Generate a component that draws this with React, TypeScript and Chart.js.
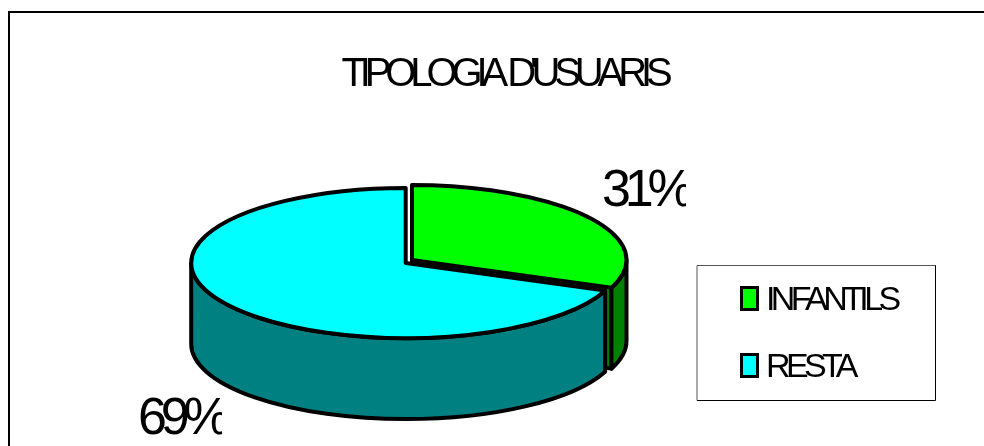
import { useEffect, useRef } from "react";
import { Chart, registerables } from "chart.js";

Chart.register(...registerables);

const categories = ["INFANTILS", "RESTA"];
const shares = [31, 69];
const topColors = ["#00FF00", "#00FFFF"];
const wallColors = ["#008000", "#008080"];
const chartTitle = "TIPOLOGIA D'USUARIS";

const FONT = '"Liberation Sans", Arial, sans-serif';
const RADIUS = 214.5;
const SQUASH = 0.35;
const DEPTH = 81;
const CENTER_X = 405.7;
const CENTER_Y = 263;
const EXPLODE_X = [6.3, 0];
const EXPLODE_Y = [-3, 0];
const OUTLINE = 4;

function sliceFrame(arc: any, i: number) {
  return {
    cx: CENTER_X + EXPLODE_X[i],
    cy: CENTER_Y + EXPLODE_Y[i],
    rx: arc.outerRadius,
    ry: arc.outerRadius * SQUASH,
  };
}

function spacedText(ctx: CanvasRenderingContext2D, text: string, x: number, y: number, size: number, spacing: number) {
  ctx.font = `${size}px ${FONT}`;
  (ctx as any).letterSpacing = `${spacing}px`;
  ctx.fillStyle = "#000";
  ctx.textAlign = "left";
  ctx.textBaseline = "alphabetic";
  ctx.fillText(text, x, y);
  (ctx as any).letterSpacing = "0px";
}

// Draws the extruded sides, then the library's arcs flattened into ellipses.
const tiltedPie = {
  id: "tiltedPie",
  beforeDraw(chart: any) {
    const ctx = chart.ctx as CanvasRenderingContext2D;
    ctx.save();
    ctx.fillStyle = "#fff";
    ctx.fillRect(0, 0, chart.width, chart.height);
    ctx.strokeStyle = "#000";
    ctx.lineWidth = 2;
    ctx.beginPath();
    ctx.moveTo(9, chart.height);
    ctx.lineTo(9, 12);
    ctx.lineTo(chart.width, 12);
    ctx.stroke();
    ctx.restore();
    // Tight tracking for the title, which the library paints next
    (ctx as any).letterSpacing = "-6.1px";
  },
  beforeDatasetsDraw(chart: any) {
    const ctx = chart.ctx as CanvasRenderingContext2D;
    (ctx as any).letterSpacing = "0px";
    const arcs = chart.getDatasetMeta(0).data;
    ctx.save();
    ctx.strokeStyle = "#000";
    ctx.lineWidth = OUTLINE;
    ctx.lineJoin = "round";

    arcs.forEach((arc: any, i: number) => {
      const f = sliceFrame(arc, i);
      const from = arc.startAngle;
      const to = arc.endAngle;
      ctx.fillStyle = wallColors[i];

      // Radial cut face of the slice that ends in front of the pie
      if (to > 0 && to < Math.PI) {
        const tipX = f.cx + Math.cos(to) * f.rx;
        const tipY = f.cy + Math.sin(to) * f.ry;
        ctx.beginPath();
        ctx.moveTo(f.cx, f.cy);
        ctx.lineTo(tipX, tipY);
        ctx.lineTo(tipX, tipY + DEPTH);
        ctx.lineTo(f.cx, f.cy + DEPTH);
        ctx.closePath();
        ctx.fill();
        ctx.stroke();
      }

      // Curved outer wall over the front half of the ellipse
      const a = Math.max(from, 0);
      const b = Math.min(to, Math.PI);
      if (b > a) {
        ctx.beginPath();
        ctx.ellipse(f.cx, f.cy, f.rx, f.ry, 0, a, b);
        ctx.ellipse(f.cx, f.cy + DEPTH, f.rx, f.ry, 0, b, a, true);
        ctx.closePath();
        ctx.fill();
        ctx.stroke();
      }
    });

    // Painted from the back slice forward so the outlines overlap correctly
    [1, 0].forEach((i) => {
      const arc = arcs[i];
      const f = sliceFrame(arc, i);
      ctx.save();
      ctx.translate(f.cx, f.cy);
      ctx.scale(1, SQUASH);
      ctx.translate(-arc.x, -arc.y);
      arc.draw(ctx);
      ctx.restore();
      ctx.beginPath();
      ctx.moveTo(f.cx, f.cy);
      ctx.ellipse(f.cx, f.cy, f.rx, f.ry, 0, arc.startAngle, arc.endAngle);
      ctx.closePath();
      ctx.stroke();
    });
    ctx.restore();
    return false;
  },
  afterDraw(chart: any) {
    const ctx = chart.ctx as CanvasRenderingContext2D;
    (ctx as any).letterSpacing = "0px";
    ctx.save();

    // Percentage labels sit in narrow boxes that cut off the final glyph
    const labelBoxes = [
      { x: 602, y: 206, clipRight: 686 },
      { x: 138, y: 434, clipRight: 222 },
    ];
    shares.forEach((v, i) => {
      const box = labelBoxes[i];
      ctx.save();
      ctx.beginPath();
      ctx.rect(box.x - 4, box.y - 60, box.clipRight - box.x + 4, 90);
      ctx.clip();
      spacedText(ctx, `${v}%`, box.x, box.y, 52, -6.2);
      ctx.restore();
    });

    // Legend panel, with a lighter top and left edge
    ctx.lineWidth = 1;
    ctx.strokeStyle = "#000";
    ctx.beginPath();
    ctx.moveTo(697, 400.5);
    ctx.lineTo(935.5, 400.5);
    ctx.lineTo(935.5, 265);
    ctx.stroke();
    ctx.strokeStyle = "#555";
    ctx.beginPath();
    ctx.moveTo(697, 400.5);
    ctx.lineTo(697, 265.5);
    ctx.lineTo(935.5, 265.5);
    ctx.stroke();

    categories.forEach((name, i) => {
      const rowY = 298.5 + i * 67;
      ctx.fillStyle = topColors[i];
      ctx.strokeStyle = "#000";
      ctx.lineWidth = 3;
      ctx.fillRect(741.5, rowY - 11, 16, 22);
      ctx.strokeRect(741.5, rowY - 11, 16, 22);
      spacedText(ctx, name, 766, rowY + 11, 34, -4.6);
    });
    ctx.restore();
  },
};

export default function App() {
  const ref = useRef<HTMLCanvasElement>(null);
  useEffect(() => {
    document.body.style.margin = "0";
    const chart = new Chart(ref.current!, {
      type: "pie",
      data: {
        labels: categories,
        datasets: [
          {
            data: shares,
            backgroundColor: topColors,
            borderWidth: 0,
          },
        ],
      },
      plugins: [tiltedPie],
      options: {
        animation: false,
        responsive: false,
        radius: RADIUS,
        layout: { padding: { left: 24 } },
        plugins: {
          legend: { display: false },
          tooltip: { enabled: false },
          title: {
            display: true,
            text: chartTitle,
            color: "#000",
            font: { family: FONT, size: 40, weight: "normal" },
            padding: { top: 51, bottom: 0 },
          },
        },
      } as any,
    });
    return () => chart.destroy();
  }, []);
  return <canvas ref={ref} width={984} height={446} style={{ display: "block" }} />;
}
